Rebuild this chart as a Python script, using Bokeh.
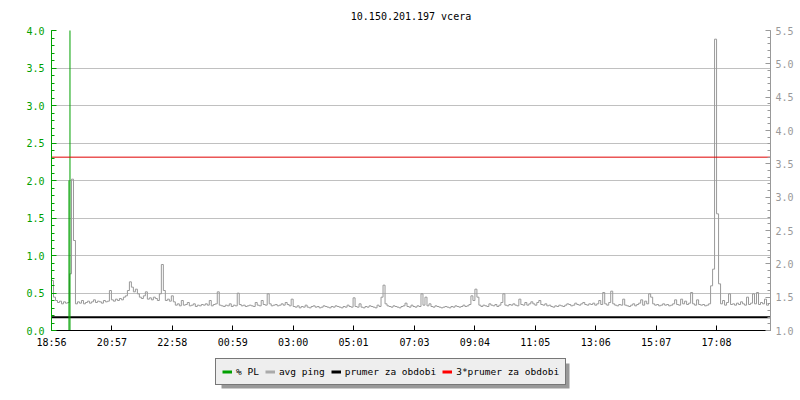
import numpy as np
from bokeh.plotting import figure
from bokeh.layouts import column
from bokeh.models import (Range1d, LinearAxis, FixedTicker, PrintfTickFormatter,
                          Legend, LegendItem, BoxAnnotation)
from bokeh.embed import file_html
from bokeh.resources import INLINE

# ---------------- data ----------------
title_text = "10.150.201.197 vcera"
start_label = "18:56"
period_minutes = 1440
sample_minutes = 4

x_tick_labels = ["18:56", "20:57", "22:58", "00:59", "03:00", "05:01",
                 "07:03", "09:04", "11:05", "13:06", "15:07", "17:08"]

pl_ticks = [0.0, 0.5, 1.0, 1.5, 2.0, 2.5, 3.0, 3.5, 4.0]
ping_ticks = [1.0, 1.5, 2.0, 2.5, 3.0, 3.5, 4.0, 4.5, 5.0, 5.5]

# avg ping (ms), one value every 4 minutes starting 18:56
ping_ms = [
    1.75, 1.50, 1.45, 1.42, 1.44, 1.40, 1.43, 1.41, 1.42, 1.85,
    3.27, 2.35,
    1.40, 1.43, 1.41, 1.45, 1.40, 1.42, 1.44, 1.41, 1.43, 1.46, 1.42, 1.44, 1.43, 1.41, 1.45, 1.43, 1.44,
    1.60,
    1.46, 1.44, 1.47, 1.45, 1.48, 1.46, 1.50,
    1.52, 1.60, 1.73, 1.65, 1.58, 1.62, 1.55,
    1.50, 1.48, 1.52, 1.58, 1.47, 1.49, 1.46, 1.50, 1.48, 1.45, 1.55,
    1.99,
    1.60, 1.45, 1.47, 1.44, 1.52, 1.43,
    1.38, 1.40, 1.37, 1.45, 1.38, 1.39, 1.42, 1.37, 1.38, 1.40, 1.36, 1.38, 1.37, 1.39, 1.38,
    1.40, 1.38, 1.45, 1.37, 1.39, 1.40, 1.58, 1.38,
    1.37, 1.36, 1.38, 1.37, 1.40, 1.36, 1.38, 1.37, 1.56, 1.39, 1.37, 1.38, 1.36, 1.37,
    1.38, 1.37, 1.36, 1.42, 1.38, 1.37, 1.45, 1.39, 1.38, 1.55, 1.40, 1.37, 1.38, 1.39, 1.37, 1.38,
    1.40, 1.38, 1.42, 1.39, 1.37, 1.47,
    1.36, 1.35, 1.37, 1.34, 1.36, 1.35, 1.38, 1.35, 1.34, 1.36,
    1.37, 1.35, 1.36, 1.34, 1.35, 1.37, 1.36, 1.35, 1.34, 1.36,
    1.35, 1.37, 1.36, 1.35, 1.34, 1.36, 1.35, 1.38, 1.36, 1.35,
    1.49,
    1.36, 1.35, 1.40, 1.35, 1.34, 1.36, 1.35, 1.37, 1.36, 1.35, 1.34, 1.38, 1.36, 1.50,
    1.68,
    1.40, 1.37, 1.36, 1.35, 1.37, 1.36, 1.35, 1.34, 1.36, 1.37,
    1.41, 1.36, 1.35, 1.38, 1.36, 1.35, 1.37, 1.36,
    1.55,
    1.38, 1.50, 1.37,
    1.40, 1.36, 1.35, 1.37, 1.36, 1.35, 1.34, 1.35, 1.36, 1.35,
    1.34, 1.36, 1.35, 1.37, 1.36, 1.35, 1.36, 1.38, 1.36, 1.37, 1.39, 1.52,
    1.45, 1.62, 1.50, 1.38,
    1.36, 1.38, 1.37, 1.36, 1.40, 1.38, 1.37, 1.39, 1.36, 1.38, 1.42,
    1.55,
    1.38, 1.37, 1.39, 1.38, 1.40, 1.38, 1.37, 1.47, 1.39, 1.38, 1.42, 1.38, 1.40, 1.43,
    1.40, 1.38, 1.42, 1.45, 1.39, 1.38, 1.40, 1.37, 1.38, 1.36,
    1.35, 1.37, 1.36, 1.38, 1.37, 1.36, 1.38, 1.40, 1.39, 1.37,
    1.38, 1.41, 1.39, 1.38, 1.40, 1.42, 1.39, 1.38, 1.40, 1.39,
    1.41, 1.38, 1.40, 1.45, 1.39,
    1.57,
    1.40, 1.38, 1.42,
    1.59,
    1.40, 1.38, 1.37, 1.39, 1.38, 1.47, 1.38, 1.37, 1.36, 1.38, 1.40, 1.37, 1.39, 1.41,
    1.46, 1.38, 1.44, 1.40, 1.55, 1.50,
    1.40, 1.38, 1.39, 1.37, 1.38, 1.40, 1.38, 1.39, 1.37, 1.38, 1.40,
    1.46, 1.39, 1.38, 1.47, 1.40, 1.44, 1.39, 1.41, 1.57, 1.40, 1.38, 1.46, 1.39,
    1.38, 1.39, 1.37, 1.38, 1.40,
    1.67, 1.92, 5.37, 2.75, 1.70,
    1.40, 1.45, 1.38, 1.42, 1.55, 1.39, 1.40, 1.38, 1.41, 1.39,
    1.43, 1.40, 1.38, 1.50, 1.39, 1.41, 1.55, 1.40, 1.57, 1.39,
    1.42, 1.40, 1.47, 1.38, 1.41,
]

# packet loss (%), non-zero samples only (minutes after 18:56)
pl_minutes = [35, 37]
pl_percent = [2.0, 100.0]

avg_ping = 1.2          # prumer za obdobi
avg_factor = 3          # 3*prumer za obdobi

legend_labels = ["% PL", "avg ping", "prumer za obdobi", "3*prumer za obdobi"]

# ---------------- styling ----------------
GREEN = "#00a000"
GRAY = "#999999"
GRID = "#c0c0c0"
RED = "#e00000"
FONT = "DejaVu Sans Mono"
FS = "10px"


def minutes_after_start(lbl):
    h, m = map(int, lbl.split(":"))
    sh, sm = map(int, start_label.split(":"))
    return ((h * 60 + m) - (sh * 60 + sm)) % period_minutes


x_tick_pos = [minutes_after_start(l) for l in x_tick_labels]
ping_t = [i * sample_minutes for i in range(len(ping_ms))]
x_span = [0, period_minutes]

p = figure(width=800, height=350, output_backend="svg", toolbar_location=None,
           x_range=Range1d(0, period_minutes), y_range=Range1d(pl_ticks[0], pl_ticks[-1]),
           min_border_left=51, min_border_right=30, min_border_top=30,
           min_border_bottom=20, title=title_text)
p.extra_y_ranges = {"ping": Range1d(ping_ticks[0], ping_ticks[-1])}
p.outline_line_color = None
p.background_fill_color = "white"
p.border_fill_color = "white"

p.title.text_font = FONT
p.title.text_font_size = FS
p.title.text_font_style = "normal"
p.title.align = "center"
p.title.text_color = "black"
p.title.vertical_align = "top"
p.title.standoff = 14


def style_axis(a, col, standoff):
    a.axis_line_color = col
    a.major_tick_line_color = col
    a.minor_tick_line_color = col
    a.major_tick_in = 5
    a.major_tick_out = 0
    a.minor_tick_in = 3
    a.minor_tick_out = 0
    a.major_label_text_color = col
    a.major_label_text_font = FONT
    a.major_label_text_font_size = FS
    a.major_label_standoff = standoff


ly = p.yaxis[0]
ly.ticker = FixedTicker(ticks=pl_ticks,
                        minor_ticks=list(np.round(np.arange(pl_ticks[0], pl_ticks[-1] + 0.001, 0.1), 2)))
ly.formatter = PrintfTickFormatter(format="%.1f")
style_axis(ly, GREEN, 7)

ry = LinearAxis(y_range_name="ping")
ry.ticker = FixedTicker(ticks=ping_ticks,
                        minor_ticks=list(np.round(np.arange(ping_ticks[0], ping_ticks[-1] + 0.001, 0.1), 2)))
ry.formatter = PrintfTickFormatter(format="%.1f")
style_axis(ry, GRAY, 5)
p.add_layout(ry, "right")

bx = p.xaxis[0]
bx.ticker = FixedTicker(ticks=x_tick_pos)
bx.major_label_overrides = {t: l for t, l in zip(x_tick_pos, x_tick_labels)}
style_axis(bx, "black", 6)
bx.minor_tick_line_color = None

p.xgrid.visible = False
p.ygrid[0].ticker = FixedTicker(ticks=pl_ticks)
p.ygrid[0].grid_line_color = GRID
p.ygrid[0].grid_line_width = 1

# data
p.step(x=ping_t, y=ping_ms, mode="after", line_color=GRAY, line_width=1,
       y_range_name="ping")
p.line(x=x_span, y=[avg_ping, avg_ping], line_color="black", line_width=2,
       y_range_name="ping")
p.segment(x0=pl_minutes, y0=[0] * len(pl_minutes), x1=pl_minutes, y1=pl_percent,
          line_color=GREEN, line_width=1)
p.line(x=x_span, y=[avg_factor * avg_ping] * 2, line_color=RED, line_width=1,
       y_range_name="ping")

# ---------------- legend strip ----------------
lf = figure(width=800, height=50, output_backend="svg", toolbar_location=None,
            x_range=Range1d(0, 1), y_range=Range1d(0, 1),
            x_axis_type=None, y_axis_type=None,
            min_border_left=0, min_border_right=0, min_border_top=0, min_border_bottom=0)
lf.outline_line_color = None
lf.background_fill_color = "white"
lf.border_fill_color = "white"
lf.xgrid.visible = False
lf.ygrid.visible = False

# drop shadow behind the legend box (offset 3px right / down)
shadow = BoxAnnotation(left=170, right=518, bottom=12, top=37,
                       left_units="screen", right_units="screen",
                       top_units="screen", bottom_units="screen",
                       fill_color="#999999", fill_alpha=1, line_color=None)
lf.add_layout(shadow)

leg_colors = [GREEN, "#aaaaaa", "black", "#ff0000"]
items = []
for lbl, c in zip(legend_labels, leg_colors):
    r = lf.line(x=[float("nan")], y=[float("nan")], line_color=c, line_width=3)
    items.append(LegendItem(label=lbl, renderers=[r]))

legend = Legend(items=items, orientation="horizontal", location=(164, 15),
                border_line_color="black", border_line_width=1,
                background_fill_color="#eeeeee", background_fill_alpha=1,
                label_text_font=FONT, label_text_font_size="9.5px",
                label_text_color="black",
                glyph_width=10, glyph_height=13, label_standoff=4,
                spacing=6, padding=6, margin=0, label_height=13)
lf.add_layout(legend, "center")

layout = column(p, lf, spacing=0)
open("out.html", "w").write(file_html(layout, INLINE))
